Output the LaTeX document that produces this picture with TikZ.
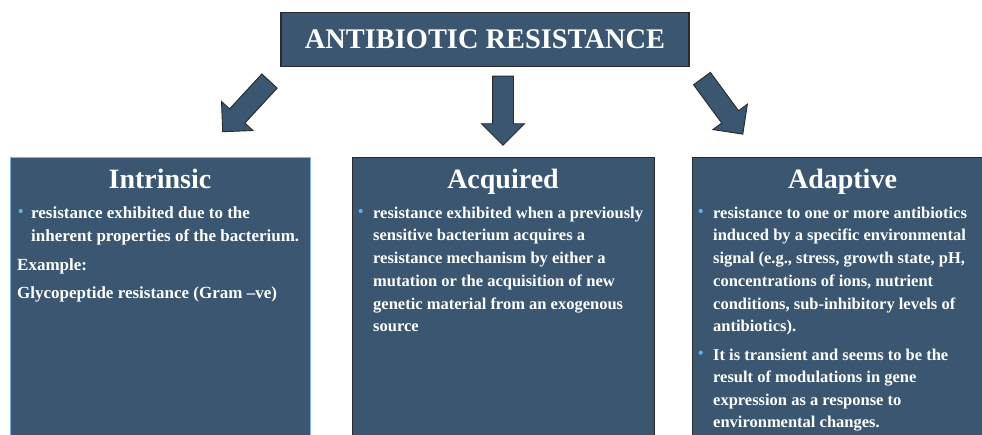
\documentclass[tikz,border=0pt]{standalone}
\usepackage{fontspec}
\setmainfont{Liberation Serif}
\usetikzlibrary{shapes.arrows}
\definecolor{boxfill}{HTML}{3A5670}
\definecolor{darkline}{HTML}{2A2A2A}
\definecolor{lightline}{HTML}{7DB3DD}
\definecolor{bulletblue}{HTML}{5FB4E4}
\tikzset{
  panel/.style={rectangle, fill=boxfill, draw=darkline, line width=1pt, inner sep=0, anchor=north west, minimum height=320},
  titlebox/.style={rectangle, fill=boxfill, draw=darkline, line width=1.2pt, inner sep=0, text=white,
    font=\fontsize{28.4}{30}\selectfont\bfseries},
  heading/.style={text=white, inner sep=0, anchor=base, font=\fontsize{28}{30}\selectfont\bfseries},
  body/.style={text=white, inner sep=0, anchor=base west, font=\fontsize{16.5}{20}\selectfont\bfseries},
  bodyL/.style={body, font=\fontsize{17}{20}\selectfont\bfseries},
  bul/.style={circle, fill=bulletblue, inner sep=0, minimum size=4.2},
  blockarrow/.style={single arrow, fill=boxfill, draw=darkline, line width=0.9pt, inner sep=10pt,
    single arrow head extend=11pt, minimum height=69, anchor=tail, shape border uses incircle=false}
}
\begin{document}
\begin{tikzpicture}[x=1pt,y=-1pt]
\useasboundingbox (0,0) rectangle (982,434);
\clip (0,0) rectangle (982,434);
% title
\node[titlebox, minimum width=408, minimum height=54.5] (title) at (485,39.5) {ANTIBIOTIC RESISTANCE};
% arrows
\node[blockarrow, rotate=-132.7] (arrL) at (269.8,80.7) {};
\node[blockarrow, rotate=-90] (arrM) at (503,75.7) {};
\node[blockarrow, rotate=-53.7] (arrR) at (701.7,78.2) {};
% panels
\node[panel, draw=lightline, minimum width=300] (intr) at (10,157) {};
\node[panel, minimum width=302] (acq) at (352,157) {};
\node[panel, minimum width=302] (adap) at (692,157) {};
% headings
\node[heading] (hI) at (160,188.3) {Intrinsic};
\node[heading] (hAc) at (503,188.3) {Acquired};
\node[heading] (hAd) at (842.5,188.8) {Adaptive};
% intrinsic text
\node[bul] (bI) at (20.7,211) {};
\node[bodyL] (i1) at (31,218.3) {resistance exhibited due to the};
\node[bodyL] (i2) at (31,241) {inherent properties of the bacterium.};
\node[bodyL] (i3) at (17,270.7) {Example:};
\node[bodyL] (i4) at (17,298.3) {Glycopeptide resistance (Gram –ve)};
% acquired text
\node[bul] (bAc) at (360.7,211) {};
\node[body] (a1) at (373,218.3) {resistance exhibited when a previously};
\node[body] (a2) at (373,240.7) {sensitive bacterium acquires a};
\node[body] (a3) at (373,263.3) {resistance mechanism by either a};
\node[body] (a4) at (373,286.7) {mutation or the acquisition of new};
\node[body] (a5) at (373,309.3) {genetic material from an exogenous};
\node[body] (a6) at (373,331.7) {source};
% adaptive text
\node[bul] (bAd1) at (700.7,211) {};
\node[body] (d1) at (713,218.3) {resistance to one or more antibiotics};
\node[body] (d2) at (713,240.7) {induced by a specific environmental};
\node[body] (d3) at (713,263.3) {signal (e.g., stress, growth state, pH,};
\node[body] (d4) at (713,286.7) {concentrations of ions, nutrient};
\node[body] (d5) at (713,309.3) {conditions, sub-inhibitory levels of};
\node[body] (d6) at (713,331.7) {antibiotics).};
\node[bul] (bAd2) at (700.7,352.7) {};
\node[body] (d7) at (713,360) {It is transient and seems to be the};
\node[body] (d8) at (713,382.7) {result of modulations in gene};
\node[body] (d9) at (713,405) {expression as a response to};
\node[body] (d10) at (713,427.7) {environmental changes.};
\end{tikzpicture}
\end{document}
